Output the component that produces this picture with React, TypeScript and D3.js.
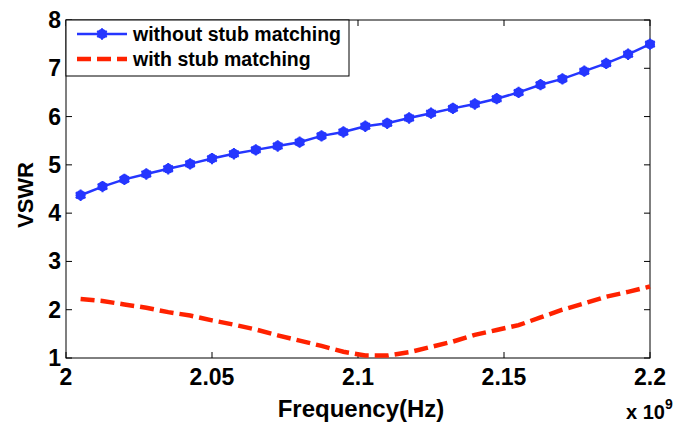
import React, { useEffect, useRef } from 'react';
import * as d3 from 'd3';

// frequency in GHz (axis shows x 10^9)
const freqs = [
  2.005, 2.0125, 2.02, 2.0275, 2.035, 2.0425, 2.05, 2.0575, 2.065, 2.0725,
  2.08, 2.0875, 2.095, 2.1025, 2.11, 2.1175, 2.125, 2.1325, 2.14, 2.1475,
  2.155, 2.1625, 2.17, 2.1775, 2.185, 2.1925, 2.2,
];
const withoutStub = [
  4.37, 4.55, 4.7, 4.81, 4.92, 5.02, 5.13, 5.23, 5.31, 5.39,
  5.47, 5.6, 5.68, 5.8, 5.86, 5.97, 6.07, 6.17, 6.26, 6.37,
  6.5, 6.66, 6.78, 6.94, 7.1, 7.29, 7.5,
];
const withStub = [
  2.22, 2.18, 2.11, 2.04, 1.95, 1.88, 1.78, 1.69, 1.59, 1.47,
  1.36, 1.25, 1.13, 1.05, 1.05, 1.12, 1.23, 1.34, 1.48, 1.58,
  1.68, 1.84, 2.0, 2.13, 2.27, 2.37, 2.48,
];
const xTicks = [2, 2.05, 2.1, 2.15, 2.2];
const yTicks = [1, 2, 3, 4, 5, 6, 7, 8];
const legendLabels = ['without stub matching', 'with stub matching'];

const BLUE = '#2536ff';
const RED = '#ff2200';
const FONT = '"Liberation Sans", Arial, Helvetica, sans-serif';

export default function App() {
  const ref = useRef<SVGSVGElement>(null);

  useEffect(() => {
    const svg = d3.select(ref.current);
    svg.selectAll('*').remove();

    const left = 66, right = 650, top = 20, bottom = 358;
    const x = d3.scaleLinear().domain([2, 2.2]).range([left, right]);
    const y = d3.scaleLinear().domain([1, 8]).range([bottom, top]);

    svg.append('rect').attr('width', 679).attr('height', 424).attr('fill', 'white');

    const g = svg.append('g');

    // ticks (inward, all four sides)
    const tl = 6;
    xTicks.forEach(t => {
      g.append('line').attr('x1', x(t)).attr('x2', x(t)).attr('y1', bottom).attr('y2', bottom - tl)
        .attr('stroke', 'black');
      g.append('line').attr('x1', x(t)).attr('x2', x(t)).attr('y1', top).attr('y2', top + tl)
        .attr('stroke', 'black');
      g.append('text').attr('x', x(t)).attr('y', 385).attr('text-anchor', 'middle')
        .style('font-family', FONT).style('font-weight', 'bold').style('font-size', '23px')
        .text(String(t));
    });
    yTicks.forEach(t => {
      g.append('line').attr('x1', left).attr('x2', left + tl).attr('y1', y(t)).attr('y2', y(t))
        .attr('stroke', 'black');
      g.append('line').attr('x1', right).attr('x2', right - tl).attr('y1', y(t)).attr('y2', y(t))
        .attr('stroke', 'black');
      g.append('text').attr('x', 61).attr('y', y(t) + 8).attr('text-anchor', 'end')
        .style('font-family', FONT).style('font-weight', 'bold').style('font-size', '23px')
        .text(String(t));
    });

    // box
    g.append('rect').attr('x', left).attr('y', top).attr('width', right - left).attr('height', bottom - top)
      .attr('fill', 'none').attr('stroke', 'black');

    const line = d3.line<number>().x((_, i) => x(freqs[i])).y(d => y(d));

    g.append('path').datum(withStub).attr('d', line).attr('fill', 'none')
      .attr('stroke', RED).attr('stroke-width', 4.5).attr('stroke-dasharray', '14,6');

    g.append('path').datum(withoutStub).attr('d', line).attr('fill', 'none')
      .attr('stroke', BLUE).attr('stroke-width', 2.5);

    const star = d3.symbol().type(d3.symbolAsterisk).size(90);
    const markers = g.selectAll('.mk').data(withoutStub).enter().append('g')
      .attr('transform', (d, i) => `translate(${x(freqs[i])}, ${y(d)})`);
    markers.append('circle').attr('r', 5).attr('fill', BLUE);
    markers.append('path').attr('d', star()).attr('fill', 'none').attr('stroke', BLUE).attr('stroke-width', 2);

    // axis labels
    svg.append('text').attr('x', 361).attr('y', 417).attr('text-anchor', 'middle')
      .style('font-family', FONT).style('font-weight', 'bold').style('font-size', '24px')
      .text('Frequency(Hz)');
    svg.append('text').attr('transform', 'translate(33, 195) rotate(-90)').attr('text-anchor', 'middle')
      .style('font-family', FONT).style('font-weight', 'bold').style('font-size', '22px')
      .text('VSWR');
    const exp = svg.append('text').attr('x', 626).attr('y', 419)
      .style('font-family', FONT).style('font-weight', 'bold').style('font-size', '20px');
    exp.append('tspan').text('x 10');
    exp.append('tspan').attr('dy', -10).style('font-size', '14px').text('9');

    // legend
    const lg = svg.append('g');
    lg.append('rect').attr('x', left).attr('y', top).attr('width', 349 - left).attr('height', 76 - top)
      .attr('fill', 'white').attr('stroke', 'black');
    lg.append('line').attr('x1', 77).attr('x2', 127).attr('y1', 34).attr('y2', 34)
      .attr('stroke', BLUE).attr('stroke-width', 2.5);
    const lm = lg.append('g').attr('transform', 'translate(102, 34)');
    lm.append('circle').attr('r', 5).attr('fill', BLUE);
    lm.append('path').attr('d', star()).attr('fill', 'none').attr('stroke', BLUE).attr('stroke-width', 2);
    lg.append('line').attr('x1', 77).attr('x2', 127).attr('y1', 59).attr('y2', 59)
      .attr('stroke', RED).attr('stroke-width', 4.5).attr('stroke-dasharray', '14,6');
    legendLabels.forEach((l, i) => {
      lg.append('text').attr('x', 133).attr('y', 41 + i * 25)
        .style('font-family', FONT).style('font-weight', 'bold').style('font-size', '19.5px')
        .text(l);
    });
  }, []);

  return (
    <svg ref={ref} width={679} height={424}
      style={{ position: 'absolute', left: 0, top: 0, display: 'block' }} />
  );
}
